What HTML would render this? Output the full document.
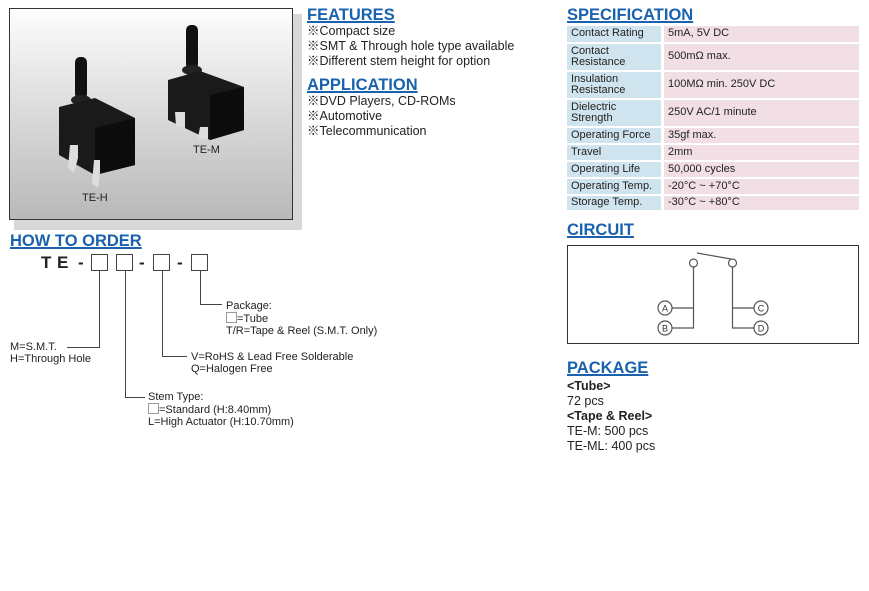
<!DOCTYPE html>
<html><head><meta charset="utf-8"><style>
body{margin:0;width:869px;height:591px;background:#fff;position:relative;overflow:hidden;font-family:"Liberation Sans","Noto Sans CJK JP",sans-serif;color:#222}
.a{position:absolute;white-space:nowrap}
.h{position:absolute;color:#1a62ad;font-weight:bold;font-size:16.5px;text-decoration:underline;text-decoration-thickness:1.5px;line-height:18px}
.t{font-size:12.5px;line-height:15px}
.s{font-size:11px;line-height:12px}
.r{position:absolute;left:567px;width:292px;font-size:11px;line-height:11.5px}
.r div{position:absolute;top:0;bottom:0;display:flex;align-items:center;padding-left:4px;box-sizing:border-box}
.r .l{left:0;width:94px;background:#cfe4ee}
.r .v{left:97px;right:0;background:#f1dfe5}
</style></head><body>
<svg class="a" style="left:0;top:0" width="869" height="591">
<defs><linearGradient id="g" x1="0" y1="0" x2="0" y2="1"><stop offset="0" stop-color="#fdfdfd"/><stop offset="1" stop-color="#b8b8b8"/></linearGradient></defs>
<rect x="14" y="14" width="288" height="216" fill="#d8d8d8"/>
<rect x="9.5" y="8.5" width="283" height="211" fill="url(#g)" stroke="#333" stroke-width="1"/>
<rect x="75" y="57" width="12" height="42" rx="5" fill="#111"/>
<ellipse cx="81" cy="100" rx="10" ry="5" fill="#222"/>
<path d="M59 107 L95 98 L135 118 L135 165 L95 175 L59 155 Z" fill="#1a1a1a"/>
<path d="M95 175 L95 128 L135 118 L135 165 Z" fill="#0c0c0c"/>
<path d="M70 145 L78 145 L78 158 L74 173 L68 168 Z" fill="#ddd"/>
<path d="M94 160 L100 160 L100 172 L98 188 L92 184 Z" fill="#ddd"/>
<rect x="186" y="25" width="12" height="44" rx="5" fill="#111"/>
<ellipse cx="192" cy="70" rx="10" ry="5" fill="#222"/>
<path d="M168 80 L200 71 L244 87 L244 130 L210 140 L168 120 Z" fill="#1a1a1a"/>
<path d="M210 140 L210 95 L244 87 L244 130 Z" fill="#0c0c0c"/>
<path d="M175 112 L185 112 L185 128 L176 126 Z" fill="#ddd"/>
<path d="M200 127 L208 127 L208 140 L198 138 Z" fill="#ddd"/>
<g fill="none" stroke="#444" stroke-width="1">
<rect x="91.5" y="254.5" width="16" height="16"/><rect x="116.5" y="254.5" width="16" height="16"/>
<rect x="153.5" y="254.5" width="16" height="16"/><rect x="191.5" y="254.5" width="16" height="16"/>
<path d="M99.5 271 V347.5 H67"/><path d="M125.5 271 V397.5 H145"/>
<path d="M162.5 271 V356.5 H187"/><path d="M200.5 271 V304.5 H222"/>
<rect x="567.5" y="245.5" width="291" height="98" stroke="#333"/>
</g>
<g fill="none" stroke="#555" stroke-width="1.2">
<circle cx="693.5" cy="263" r="4"/><circle cx="732.5" cy="263" r="4"/>
<path d="M697 253 L731 259"/>
<path d="M693.5 267 V328 H672"/><path d="M693.5 308 H672"/>
<path d="M732.5 267 V328 H754"/><path d="M732.5 308 H754"/>
<circle cx="665" cy="308" r="7"/><circle cx="665" cy="328" r="7"/>
<circle cx="761" cy="308" r="7"/><circle cx="761" cy="328" r="7"/>
</g>
<g font-family="Liberation Sans,sans-serif" font-size="9" fill="#333" text-anchor="middle">
<text x="665" y="311.5">A</text><text x="665" y="331.5">B</text><text x="761" y="311.5">C</text><text x="761" y="331.5">D</text>
</g>
<g font-family="Liberation Sans,sans-serif" font-size="17" font-weight="bold" fill="#222">
<text x="41" y="268">T</text><text x="57" y="268">E</text><text x="78" y="268">-</text><text x="139" y="268">-</text><text x="177" y="268">-</text>
</g>
</svg>
<div class="a s" style="left:82px;top:192px">TE-H</div>
<div class="a s" style="left:193px;top:144px">TE-M</div>

<div class="h" style="left:307px;top:6px">FEATURES</div>
<div class="a t" style="left:307px;top:24px">※Compact size<br>※SMT &amp; Through hole type available<br>※Different stem height for option</div>
<div class="h" style="left:307px;top:76px">APPLICATION</div>
<div class="a t" style="left:307px;top:94px">※DVD Players, CD-ROMs<br>※Automotive<br>※Telecommunication</div>

<div class="h" style="left:10px;top:232px">HOW TO ORDER</div>
<div class="a s" style="left:226px;top:300px">Package:<br><span style="display:inline-block;width:9px;height:9px;border:1px solid #999;vertical-align:-1px"></span>=Tube<br>T/R=Tape &amp; Reel (S.M.T. Only)</div>
<div class="a s" style="left:191px;top:351px">V=RoHS &amp; Lead Free Solderable<br>Q=Halogen Free</div>
<div class="a s" style="left:148px;top:391px">Stem Type:<br><span style="display:inline-block;width:9px;height:9px;border:1px solid #999;vertical-align:-1px"></span>=Standard (H:8.40mm)<br>L=High Actuator (H:10.70mm)</div>
<div class="a s" style="left:10px;top:341px">M=S.M.T.<br>H=Through Hole</div>

<div class="h" style="left:567px;top:6px">SPECIFICATION</div>
<div class="r" style="top:26px;height:16px"><div class="l">Contact Rating</div><div class="v">5mA, 5V DC</div></div>
<div class="r" style="top:44px;height:26px"><div class="l">Contact<br>Resistance</div><div class="v">500mΩ max.</div></div>
<div class="r" style="top:72px;height:26px"><div class="l">Insulation<br>Resistance</div><div class="v">100MΩ min. 250V DC</div></div>
<div class="r" style="top:100px;height:26px"><div class="l">Dielectric<br>Strength</div><div class="v">250V AC/1 minute</div></div>
<div class="r" style="top:128px;height:15px"><div class="l">Operating Force</div><div class="v">35gf max.</div></div>
<div class="r" style="top:145px;height:15px"><div class="l">Travel</div><div class="v">2mm</div></div>
<div class="r" style="top:162px;height:15px"><div class="l">Operating Life</div><div class="v">50,000 cycles</div></div>
<div class="r" style="top:179px;height:15px"><div class="l">Operating Temp.</div><div class="v">-20°C ~ +70°C</div></div>
<div class="r" style="top:196px;height:14px"><div class="l">Storage Temp.</div><div class="v">-30°C ~ +80°C</div></div>

<div class="h" style="left:567px;top:221px">CIRCUIT</div>
<div class="h" style="left:567px;top:359px">PACKAGE</div>
<div class="a t" style="left:567px;top:379px"><b>&lt;Tube&gt;</b><br>72 pcs<br><b>&lt;Tape &amp; Reel&gt;</b><br>TE-M: 500 pcs<br>TE-ML: 400 pcs</div>
</body></html>
